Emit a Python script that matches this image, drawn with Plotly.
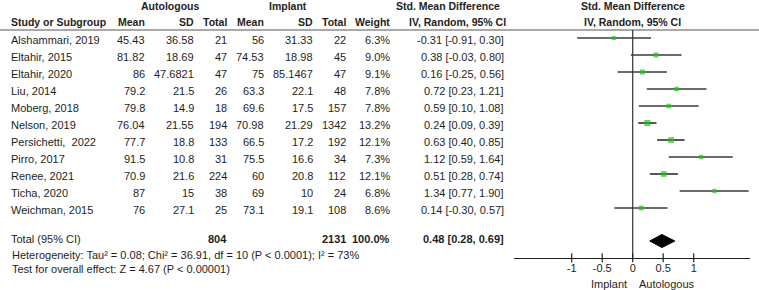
import plotly.graph_objects as go

# ---------------- data ----------------
studies = ["Alshammari, 2019", "Eltahir, 2015", "Eltahir, 2020", "Liu, 2014", "Moberg, 2018",
           "Nelson, 2019", "Persichetti,  2022", "Pirro, 2017", "Renee, 2021", "Ticha, 2020",
           "Weichman, 2015"]
auto_mean = [45.43, 81.82, 86, 79.2, 79.8, 76.04, 77.7, 91.5, 70.9, 87, 76]
auto_sd = [36.58, 18.69, 47.6821, 21.5, 14.9, 21.55, 18.8, 10.8, 21.6, 15, 27.1]
auto_n = [21, 47, 47, 26, 18, 194, 133, 31, 224, 38, 25]
impl_mean = [56, 74.53, 75, 63.3, 69.6, 70.98, 66.5, 75.5, 60, 69, 73.1]
impl_sd = [31.33, 18.98, 85.1467, 22.1, 17.5, 21.29, 17.2, 16.6, 20.8, 10, 19.1]
impl_n = [22, 45, 47, 48, 157, 1342, 192, 34, 112, 24, 108]
weight = [6.3, 9.0, 9.1, 7.8, 7.8, 13.2, 12.1, 7.3, 12.1, 6.8, 8.6]
smd = [-0.31, 0.38, 0.16, 0.72, 0.59, 0.24, 0.63, 1.12, 0.51, 1.34, 0.14]
ci_lo = [-0.91, -0.03, -0.25, 0.23, 0.10, 0.09, 0.40, 0.59, 0.28, 0.77, -0.30]
ci_hi = [0.30, 0.80, 0.56, 1.21, 1.08, 0.39, 0.85, 1.64, 0.74, 1.90, 0.57]

total_auto_n = 804
total_impl_n = 2131
total_weight = 100.0
total_smd, total_lo, total_hi = 0.48, 0.28, 0.69
heterogeneity = "Heterogeneity: Tau² = 0.08; Chi² = 36.91, df = 10 (P < 0.0001); I² = 73%"
overall = "Test for overall effect: Z = 4.67 (P < 0.00001)"

tick_vals = [-1, -0.5, 0, 0.5, 1]
tick_text = ["-1", "-0.5", "0", "0.5", "1"]
favours_left, favours_right = "Implant", "Autologous"

# ---------------- layout constants ----------------
W, H = 759, 290
FONT = "Liberation Sans, Arial, sans-serif"
FS = 11
HFS = 10.5
TXT = "#1e1e1e"
ROW0, STEP = 38, 17
TEXT_DY = 2
TOTAL_Y = 241
HEAD_LINE_Y = 30
AXIS_Y = 257.7
X_PIX0, X_PIX1 = 514, 750
ZERO_PIX, UNIT = 632.7, 61.0
xr = [(X_PIX0 - ZERO_PIX) / UNIT, (X_PIX1 - ZERO_PIX) / UNIT]


def fmt(v):
    return str(v)


row_y = [ROW0 + STEP * i for i in range(len(studies))]

fig = go.Figure()

# CI lines
lx, ly = [], []
for lo, hi, y in zip(ci_lo, ci_hi, row_y):
    lx += [lo, hi, None]
    ly += [y, y, None]
fig.add_trace(go.Scatter(x=lx, y=ly, mode="lines", xaxis="x2", yaxis="y",
                         line=dict(color="#3a3a3a", width=1.7), hoverinfo="skip", showlegend=False))
# study markers
fig.add_trace(go.Scatter(x=smd, y=row_y, mode="markers", xaxis="x2", yaxis="y",
                         marker=dict(symbol="square", color="#1cc41c",
                                     size=[1.65 * w ** 0.5 for w in weight], line=dict(width=0)),
                         showlegend=False))
# diamond
DH = 6.5
fig.add_trace(go.Scatter(x=[total_lo, total_smd, total_hi, total_smd, total_lo],
                         y=[TOTAL_Y, TOTAL_Y - DH, TOTAL_Y, TOTAL_Y + DH, TOTAL_Y],
                         mode="lines", fill="toself", fillcolor="black",
                         line=dict(color="black", width=1), xaxis="x2", yaxis="y",
                         showlegend=False))

ann = []


def txt(x, y, s, anchor="right", bold=False, xref="x", size=FS):
    if bold:
        s = "<b>" + s + "</b>"
    ann.append(dict(x=x, y=y, xref=xref, yref="y", text=s, showarrow=False,
                    xanchor=anchor, yanchor="middle", font=dict(family=FONT, size=size, color=TXT)))


# headers
HY1, HY2 = 6, 22
txt(170, HY1, "Autologous", "center", True, size=HFS)
txt(288, HY1, "Implant", "center", True, size=HFS)
txt(448, HY1, "Std. Mean Difference", "center", True, size=HFS)
txt(632.5, HY1, "Std. Mean Difference", "center", True, size=HFS)
txt(9, HY2, "Study or Subgroup", "left", True, size=HFS)
col_right = [147, 196, 229, 266, 315, 348, 392]
for x, s in zip(col_right, ["Mean", "SD", "Total", "Mean", "SD", "Total", "Weight"]):
    txt(x, HY2, s, "right", True, size=HFS)
txt(457, HY2, "IV, Random, 95% CI", "center", True, size=HFS)
txt(632, HY2, "IV, Random, 95% CI", "center", True, size=HFS)

# rows
for i, y in enumerate(row_y):
    ty = y + TEXT_DY
    txt(9, ty, studies[i], "left")
    vals = [fmt(auto_mean[i]), fmt(auto_sd[i]), fmt(auto_n[i]), fmt(impl_mean[i]),
            fmt(impl_sd[i]), fmt(impl_n[i]), f"{weight[i]:.1f}%"]
    for x, s in zip(col_right, vals):
        txt(x, ty, s, "right")
    txt(505.5, ty, f"{smd[i]:.2f} [{ci_lo[i]:.2f}, {ci_hi[i]:.2f}]", "right")

# total
TY = 239
txt(9, TY, "Total (95% CI)", "left")
txt(229, TY, str(total_auto_n), "right", True)
txt(348, TY, str(total_impl_n), "right", True)
txt(392, TY, f"{total_weight:.1f}%", "right", True)
txt(505.5, TY, f"{total_smd:.2f} [{total_lo:.2f}, {total_hi:.2f}]", "right", True)
txt(10, 255, heterogeneity, "left")
txt(10, 268.5, overall, "left")

# favours labels
ann.append(dict(x=0, y=283.5, xref="x2", yref="y", text=favours_left, showarrow=False,
                xanchor="right", yanchor="middle", xshift=-4,
                font=dict(family=FONT, size=FS, color=TXT)))
ann.append(dict(x=0, y=283.5, xref="x2", yref="y", text=favours_right, showarrow=False,
                xanchor="left", yanchor="middle", xshift=4,
                font=dict(family=FONT, size=FS, color=TXT)))

shapes = [
    dict(type="line", xref="paper", yref="y", x0=0, x1=1, y0=HEAD_LINE_Y, y1=HEAD_LINE_Y,
         line=dict(color="#555555", width=1.2)),
    dict(type="line", xref="x2", yref="y", x0=0, x1=0, y0=HEAD_LINE_Y, y1=AXIS_Y,
         line=dict(color="#333333", width=1.2)),
]
# tick marks crossing the axis line
for v in tick_vals:
    shapes.append(dict(type="line", xref="x2", yref="y", x0=v, x1=v,
                       y0=AXIS_Y - 4.5, y1=AXIS_Y + 4.5, line=dict(color="#222222", width=1.2)))

axis_pos = 1 - AXIS_Y / H
dom = [X_PIX0 / W, X_PIX1 / W]
fig.update_layout(
    width=W, height=H, margin=dict(l=0, r=0, t=0, b=0, autoexpand=False),
    paper_bgcolor="white", plot_bgcolor="white",
    xaxis=dict(range=[0, W], domain=[0, 1], visible=False, fixedrange=True),
    yaxis=dict(range=[H, 0], domain=[0, 1], visible=False, fixedrange=True),
    xaxis2=dict(range=xr, domain=dom, anchor="free", position=axis_pos,
                showline=True, linecolor="#222222", linewidth=1.2, showgrid=False, zeroline=False,
                tickmode="array", tickvals=tick_vals, ticktext=tick_text, ticks="",
                ticklabelstandoff=0,
                tickfont=dict(family=FONT, size=FS, color=TXT)),
    annotations=ann, shapes=shapes,
)

fig.write_html("out.html", config={"displayModeBar": False},
               post_script="document.body.style.margin='0';")
